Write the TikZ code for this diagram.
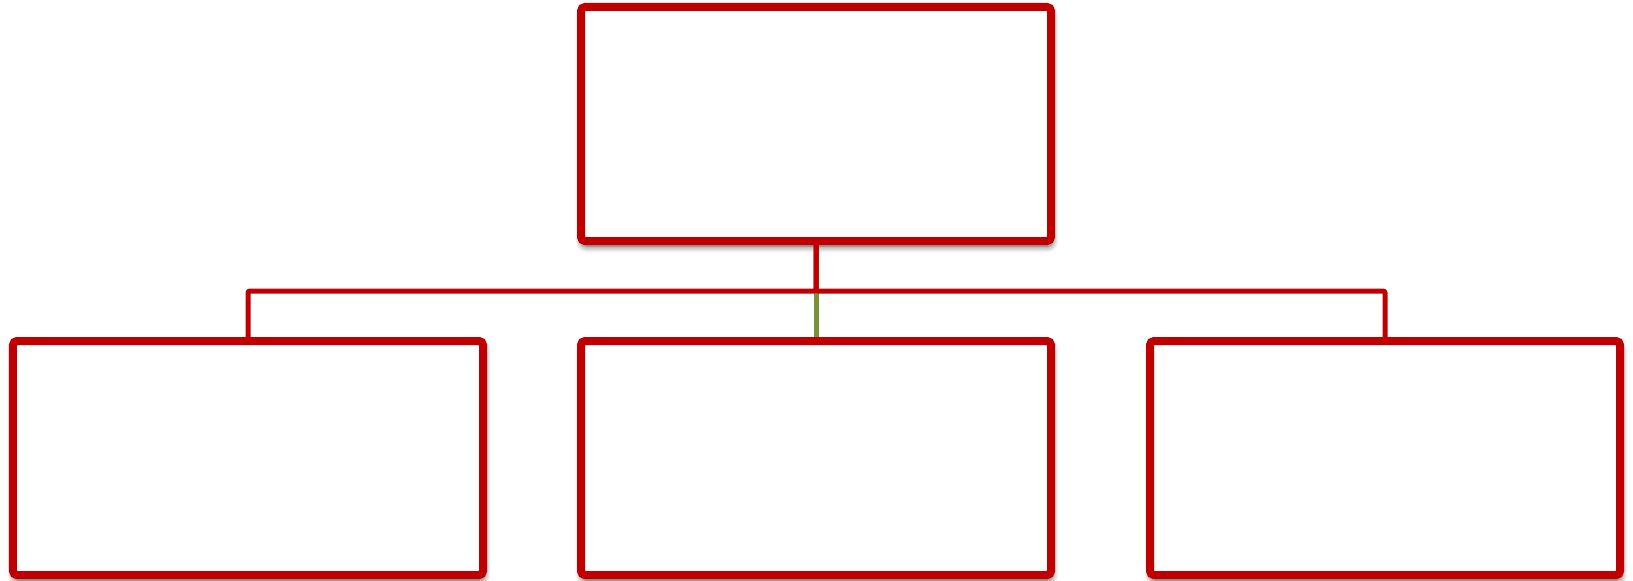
\documentclass[tikz,border=0pt]{standalone}
\usepackage{tikz}
\usetikzlibrary{positioning,calc,shadows.blur}
\definecolor{OrgRed}{HTML}{C00000}
\definecolor{OrgGreen}{HTML}{77933C}
\tikzset{
  orgbox/.style={draw=OrgRed,line width=1.6mm,fill=white,rounded corners=0.8mm,
                 minimum width=94mm,minimum height=46.8mm,inner sep=0pt,
                 blur shadow={shadow xshift=0.2mm,shadow yshift=-1mm,
                              shadow blur radius=1.3mm,shadow blur steps=8,shadow opacity=70}},
  conn/.style={draw=OrgRed,line width=1mm,rounded corners=0.4mm},
  conngreen/.style={conn,draw=OrgGreen},
}
\begin{document}
\begin{tikzpicture}[x=0.2mm,y=-0.2mm]
  \useasboundingbox (0,0) rectangle (1633,581);
  \node[orgbox] (top) at (816,124) {};
  \node[orgbox] (left) at (248,458) {};
  \node[orgbox] (mid) at (816,458) {};
  \node[orgbox] (right) at (1385,458) {};
  \coordinate (bar) at (816,291);
  % connectors
  \draw[conngreen] (top.south) -- (mid.north);
  \draw[conn] (top.south) -- (bar) -| (left.north);
  \draw[conn] (top.south) -- (bar) -| (right.north);
\end{tikzpicture}
\end{document}
